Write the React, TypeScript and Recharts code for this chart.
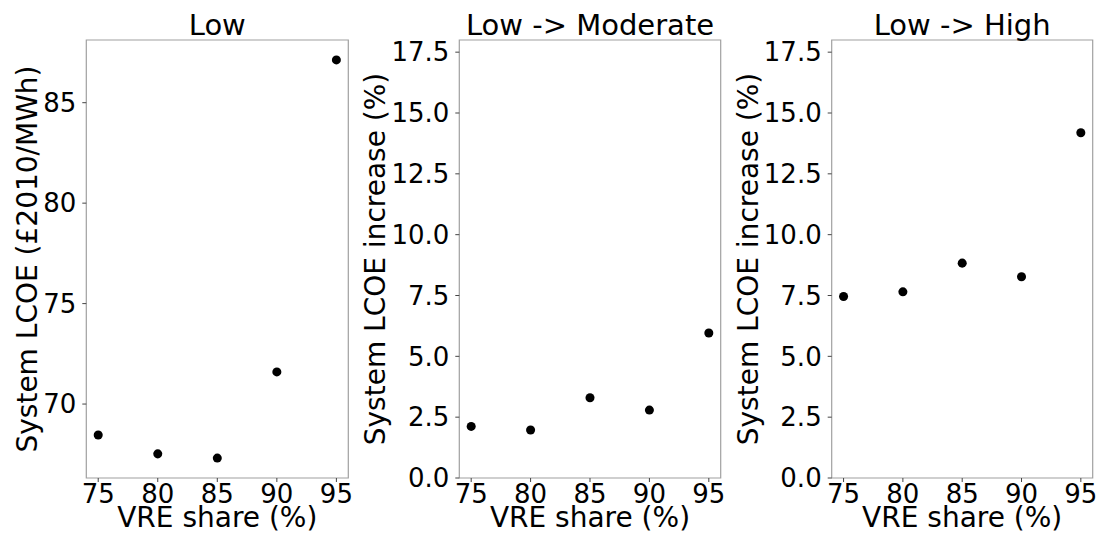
import React from 'react';
import { ScatterChart, Scatter, XAxis, YAxis, ReferenceArea } from 'recharts';

const vreShare = [75, 80, 85, 90, 95];
const xTicks = [75, 80, 85, 90, 95];
const lowLcoe = [68.46, 67.52, 67.31, 71.6, 87.13];
const moderateIncrease = [2.12, 1.97, 3.3, 2.79, 5.96];
const highIncrease = [7.46, 7.65, 8.83, 8.27, 14.19];
const lowTicks = [70, 75, 80, 85];
const pctTicks = [0, 2.5, 5, 7.5, 10, 12.5, 15, 17.5];
const titles = ['Low', 'Low -> Moderate', 'Low -> High'];
const yLabels = ['System LCOE (£2010/MWh)', 'System LCOE increase (%)', 'System LCOE increase (%)'];
const xLabel = 'VRE share (%)';

const FONT = 'DejaVu Sans';
const W = 1102;
const H = 546;
const TOP = 40;
const BOTTOM = 478;
const AXW = 60;
const AXH = 60;

function paddedDomain(vals: number[]): [number, number] {
  const mn = Math.min(...vals);
  const mx = Math.max(...vals);
  const pad = (mx - mn) * 0.05;
  return [mn - pad, mx + pad];
}

type PanelProps = {
  left: number;
  right: number;
  labelX: number;
  values: number[];
  yDomain: [number, number];
  yTicks: number[];
  fmt: (v: number) => string;
  title: string;
  yLabel: string;
};

function Panel({ left, right, labelX, values, yDomain, yTicks, fmt, title, yLabel }: PanelProps) {
  const data = vreShare.map((x, i) => ({ x, y: values[i] }));
  return (
    <div style={{ position: 'absolute', left: 0, top: 0 }}>
      <ScatterChart
        width={W}
        height={H}
        margin={{ top: TOP, right: W - right, bottom: H - BOTTOM - AXH, left: left - AXW }}
      >
        <XAxis
          type="number"
          dataKey="x"
          domain={[74, 96]}
          ticks={xTicks}
          interval={0}
          height={AXH}
          tickSize={4}
          tickMargin={3}
          axisLine={false}
          tickLine={{ stroke: '#444', strokeWidth: 1 }}
          tick={{ fill: '#000', fontSize: 26, fontFamily: FONT }}
          allowDataOverflow
          label={{
            content: (p: any) => {
              const vb = p.viewBox || {};
              return (
                <text
                  x={vb.x + vb.width / 2}
                  y={vb.y + 49}
                  textAnchor="middle"
                  fontSize={28}
                  fontFamily={FONT}
                  fill="#000"
                >
                  {xLabel}
                </text>
              );
            },
          }}
        />
        <YAxis
          type="number"
          dataKey="y"
          domain={yDomain}
          ticks={yTicks}
          interval={0}
          width={AXW}
          tickSize={4}
          tickMargin={6}
          axisLine={false}
          tickLine={{ stroke: '#444', strokeWidth: 1 }}
          tick={{ fill: '#000', fontSize: 26, fontFamily: FONT }}
          tickFormatter={fmt}
          allowDataOverflow
          label={{
            content: (p: any) => {
              const vb = p.viewBox || {};
              const cy = vb.y + vb.height / 2;
              return (
                <text
                  x={labelX}
                  y={cy}
                  transform={`rotate(-90, ${labelX}, ${cy})`}
                  textAnchor="middle"
                  fontSize={28}
                  fontFamily={FONT}
                  fill="#000"
                >
                  {yLabel}
                </text>
              );
            },
          }}
        />
        <ReferenceArea
          x1={74}
          x2={96}
          y1={yDomain[0]}
          y2={yDomain[1]}
          fill="none"
          stroke="#a0a0a0"
          strokeWidth={1.2}
          ifOverflow="visible"
          label={{
            content: (p: any) => {
              const vb = p.viewBox || {};
              return (
                <text
                  x={vb.x + vb.width / 2}
                  y={vb.y - 5}
                  textAnchor="middle"
                  fontSize={29}
                  fontFamily={FONT}
                  fill="#000"
                >
                  {title}
                </text>
              );
            },
          }}
        />
        <Scatter data={data} fill="#000" isAnimationActive={false} />
      </ScatterChart>
    </div>
  );
}

export default function App() {
  const lowDomain = paddedDomain(lowLcoe);
  return (
    <div style={{ position: 'absolute', left: 0, top: 0, width: W, height: H, background: '#fff' }}>
      <Panel
        left={86.3}
        right={348.3}
        labelX={36.7}
        values={lowLcoe}
        yDomain={lowDomain}
        yTicks={lowTicks}
        fmt={(v) => String(v)}
        title={titles[0]}
        yLabel={yLabels[0]}
      />
      <Panel
        left={459.3}
        right={720.7}
        labelX={385}
        values={moderateIncrease}
        yDomain={[0, 18]}
        yTicks={pctTicks}
        fmt={(v) => v.toFixed(1)}
        title={titles[1]}
        yLabel={yLabels[1]}
      />
      <Panel
        left={831.7}
        right={1092.7}
        labelX={758.3}
        values={highIncrease}
        yDomain={[0, 18]}
        yTicks={pctTicks}
        fmt={(v) => v.toFixed(1)}
        title={titles[2]}
        yLabel={yLabels[2]}
      />
    </div>
  );
}
